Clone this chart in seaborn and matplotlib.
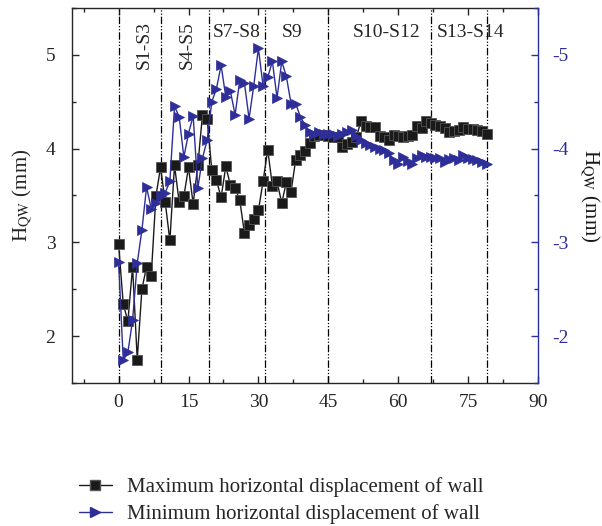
import numpy as np
import pandas as pd
import matplotlib
matplotlib.use("Agg")
import matplotlib.pyplot as plt
from matplotlib.ticker import MultipleLocator
from matplotlib.lines import Line2D
import seaborn as sns

# ---- data ----
steps = list(range(80))
max_disp = [2.98, 2.34, 2.16, 2.74, 1.75, 2.50, 2.74, 2.64, 3.49, 3.80,
            3.43, 3.02, 3.82, 3.43, 3.49, 3.80, 3.41, 3.82, 4.36, 4.32,
            3.77, 3.66, 3.48, 3.81, 3.61, 3.58, 3.45, 3.10, 3.18, 3.25,
            3.34, 3.65, 3.99, 3.60, 3.65, 3.42, 3.64, 3.54, 3.88, 3.93,
            3.97, 4.06, 4.13, 4.14, 4.14, 4.13, 4.12, 4.12, 4.02, 4.05,
            4.07, 4.12, 4.29, 4.24, 4.23, 4.23, 4.13, 4.12, 4.09, 4.14,
            4.13, 4.12, 4.13, 4.14, 4.24, 4.22, 4.29, 4.27, 4.25, 4.24,
            4.22, 4.18, 4.19, 4.20, 4.23, 4.21, 4.21, 4.20, 4.19, 4.16]
min_disp = [-2.79, -1.74, -1.83, -2.17, -2.78, -3.13, -3.59, -3.36, -3.42, -3.49,
            -3.53, -3.65, -4.45, -4.34, -3.91, -4.16, -4.35, -3.58, -3.90, -4.09,
            -4.50, -4.64, -4.89, -4.55, -4.61, -4.36, -4.73, -4.70, -4.32, -4.67,
            -5.07, -4.67, -4.76, -4.93, -4.54, -4.93, -4.77, -4.48, -4.48, -4.34,
            -4.25, -4.18, -4.16, -4.18, -4.16, -4.16, -4.16, -4.13, -4.16, -4.18,
            -4.20, -4.13, -4.09, -4.06, -4.04, -4.02, -4.00, -3.99, -3.95, -3.88,
            -3.84, -3.91, -3.87, -3.84, -3.90, -3.93, -3.91, -3.91, -3.90, -3.90,
            -3.86, -3.89, -3.90, -3.88, -3.93, -3.90, -3.89, -3.88, -3.86, -3.84]
stage_lines = [0, 9, 19.5, 31.5, 45, 67, 79]
stage_labels = ["S1-S3", "S4-S5", "S7-S8", "S9", "S10-S12", "S13-S14"]
stage_label_x = [5.6, 14.8, 25.4, 37.3, 57.6, 75.6]
stage_label_rot = [90, 90, 0, 0, 0, 0]
x_ticks = [0, 15, 30, 45, 60, 75, 90]
left_ticks = [2, 3, 4, 5]
right_ticks = [-2, -3, -4, -5]

legend_labels = ["Maximum horizontal displacement of wall",
                 "Minimum horizontal displacement of wall"]

df = pd.DataFrame({"step": steps, "max": max_disp, "min": min_disp})

sns.set_style("ticks")
plt.rcParams["font.family"] = ["Liberation Serif", "DejaVu Serif"]
plt.rcParams["mathtext.fontset"] = "stix"

BLUE = "#2E2E98"
fig = plt.figure(figsize=(6.02, 5.26), dpi=100)
ax = fig.add_axes([0.1196, 0.2719, 0.7741, 0.7129])
ax2 = ax.twinx()

sns.lineplot(data=df, x="step", y="max", ax=ax, color="#1a1a1a", lw=1.0,
             marker="s", markersize=6.5, markeredgecolor="#555555",
             markeredgewidth=0.6, zorder=3)
sns.lineplot(data=df, x="step", y="min", ax=ax2, color=BLUE, lw=1.0,
             marker=">", markersize=7.5, markeredgecolor=BLUE,
             markeredgewidth=0.5, zorder=3)

for xv in stage_lines:
    ax.axvline(xv, color="black", lw=0.9, dashes=(6, 1.5, 1, 1.5, 1, 1.5), zorder=1)

for lab, xv, rot in zip(stage_labels, stage_label_x, stage_label_rot):
    if rot == 90:
        ax.text(xv, 5.1, lab, rotation=90, ha="center", va="center", fontsize=14)
    else:
        ax.text(xv, 5.24, lab, ha="center", va="center", fontsize=14)

ax.set_xlim(-10, 90)
ax.set_ylim(1.5, 5.5)
ax2.set_ylim(-1.5, -5.5)

ax.set_xticks(x_ticks)
ax.xaxis.set_minor_locator(MultipleLocator(7.5))
ax.set_yticks(left_ticks)
ax.yaxis.set_minor_locator(MultipleLocator(0.5))
ax2.set_yticks(right_ticks)
ax2.yaxis.set_minor_locator(MultipleLocator(0.5))

ax.tick_params(axis="both", which="both", direction="in", labelsize=14,
               top=True, right=False, width=1)
ax.tick_params(axis="both", which="major", length=5)
ax.tick_params(axis="both", which="minor", length=3)
ax.tick_params(axis="x", pad=8)
ax.tick_params(axis="y", pad=12)
ax2.tick_params(axis="y", which="both", direction="in", colors=BLUE,
                labelsize=14, width=1, pad=10)
ax2.tick_params(axis="y", which="major", length=5)
ax2.tick_params(axis="y", which="minor", length=3)
ax2.set_yticklabels([str(t) for t in right_ticks])

ax.set_xlabel("")
ax.set_ylabel(r"H$_{\mathrm{QW}}$ (mm)", fontsize=15, labelpad=8)
ax2.set_ylabel(r"H$_{\mathrm{QW}}$ (mm)", fontsize=15, rotation=270,
               labelpad=24, color="#1a1a1a")

for sp in ax.spines.values():
    sp.set_linewidth(1.0)
ax2.spines["right"].set_color(BLUE)
ax2.spines["right"].set_linewidth(1.0)
ax.spines["right"].set_visible(False)
for sp in ["left", "top", "bottom"]:
    ax2.spines[sp].set_visible(False)

handles = [Line2D([], [], color="#1a1a1a", lw=1.0, marker="s", markersize=6.5,
                  markeredgecolor="#555555"),
           Line2D([], [], color=BLUE, lw=1.0, marker=">", markersize=7.5,
                  markeredgecolor=BLUE)]
fig.legend(handles, legend_labels, loc="lower left",
           bbox_to_anchor=(0.11, -0.02), frameon=False, fontsize=15,
           handlelength=1.6, labelspacing=0.35, handletextpad=0.7,
           borderaxespad=0.2)

fig.savefig("out.png", dpi=100)
